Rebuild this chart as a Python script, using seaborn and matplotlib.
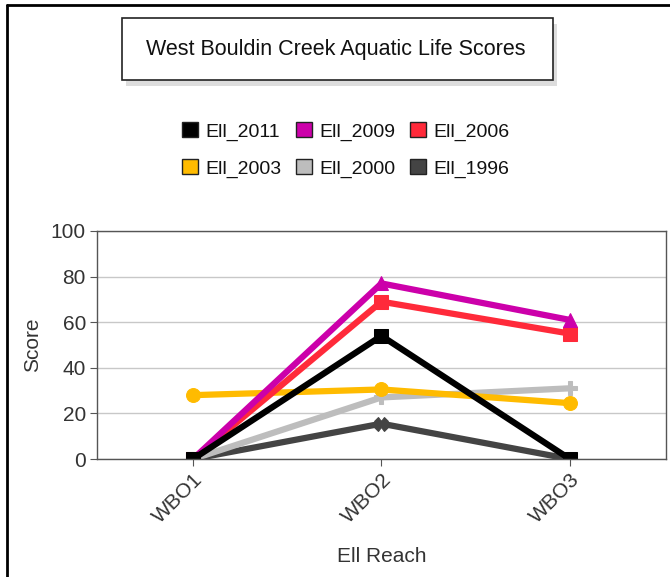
import matplotlib
matplotlib.use("Agg")
import matplotlib.pyplot as plt
import pandas as pd
import seaborn as sns
from matplotlib.patches import Rectangle
from matplotlib.lines import Line2D

# data
reaches = ["WBO1", "WBO2", "WBO3"]
ell_2011 = [0, 54, 0]
ell_2009 = [0, 77, 61]
ell_2006 = [0, 69, 55]
ell_2003 = [28, 30.5, 24.5]
ell_2000 = [0, 27, 31]
ell_1996 = [0, 15.5, 0]

series_names = ["Ell_2011", "Ell_2009", "Ell_2006", "Ell_2003", "Ell_2000", "Ell_1996"]
colors = ["#000000", "#CC00AA", "#FF2A3A", "#FFBB00", "#BDBDBD", "#444444"]
markers = ["s", "^", "s", "o", "P", "X"]

df = pd.DataFrame({
    "reach": reaches * 6,
    "series": [n for n in series_names for _ in reaches],
    "score": ell_2011 + ell_2009 + ell_2006 + ell_2003 + ell_2000 + ell_1996,
})

sns.set_style("white")
plt.rcParams['font.family'] = ['Liberation Sans', 'DejaVu Sans']

fig = plt.figure(figsize=(6.7, 5.77), dpi=100)
ax = fig.add_axes([0.1448, 0.2045, 0.849, 0.3952])

# draw back to front so 2011 ends up on top like the original
for name, col, mk in reversed(list(zip(series_names, colors, markers))):
    sub = df[df["series"] == name]
    sns.lineplot(data=sub, x="reach", y="score", color=col, marker=mk,
                 markersize=10, markeredgecolor=col, linewidth=4.5,
                 ax=ax, legend=False, sort=False)

ax.set_xlim(-0.51, 2.51)
ax.set_ylim(0, 100)
ax.set_yticks([0, 20, 40, 60, 80, 100])
ax.yaxis.grid(True, color="#C8C8C8", linewidth=1)
ax.set_axisbelow(True)
for s in ax.spines.values():
    s.set_color("#555555")
    s.set_linewidth(1)
ax.tick_params(axis="both", which="both", length=5, color="#555555",
               labelsize=15, labelcolor="#333333", left=True, bottom=True, pad=3)
plt.setp(ax.get_xticklabels(), rotation=45, ha="right", rotation_mode="anchor")
ax.set_xlabel("Ell Reach", fontsize=15, color="#333333", labelpad=14)
ax.set_ylabel("Score", fontsize=15, color="#333333", labelpad=6)

# title box with shadow
fig.patches.append(Rectangle((126 / 670, 1 - 86 / 577), 431 / 670, 62 / 577,
                             transform=fig.transFigure, facecolor="#DDDDDD",
                             edgecolor="none", zorder=1))
fig.patches.append(Rectangle((122 / 670, 1 - 80 / 577), 431 / 670, 62 / 577,
                             transform=fig.transFigure, facecolor="white",
                             edgecolor="#222222", linewidth=1.2, zorder=2))
fig.text(336 / 670, 1 - 49 / 577, "West Bouldin Creek Aquatic Life Scores",
         ha="center", va="center", fontsize=15.5, color="#111111", zorder=3)

# outer frame (top and left edges only)
fig.add_artist(Line2D([7 / 670, 1], [1 - 5 / 577, 1 - 5 / 577],
                      transform=fig.transFigure, color="black", linewidth=2))
fig.add_artist(Line2D([7 / 670, 7 / 670], [0, 1 - 5 / 577],
                      transform=fig.transFigure, color="black", linewidth=2))

# legend fills column by column, so reorder to read row by row
order = [0, 3, 1, 4, 2, 5]
handles = [Rectangle((0, 0), 1, 1, facecolor=colors[i], edgecolor="#222222", linewidth=1)
           for i in order]
labels = [series_names[i] for i in order]
fig.legend(handles, labels, loc="center", ncol=3,
           bbox_to_anchor=(346 / 670, 1 - 150 / 577), frameon=False,
           fontsize=14, handlelength=0.8, handleheight=0.8, handletextpad=0.4,
           columnspacing=0.75, labelspacing=0.95, labelcolor="#111111")

fig.savefig("out.png", dpi=100)
